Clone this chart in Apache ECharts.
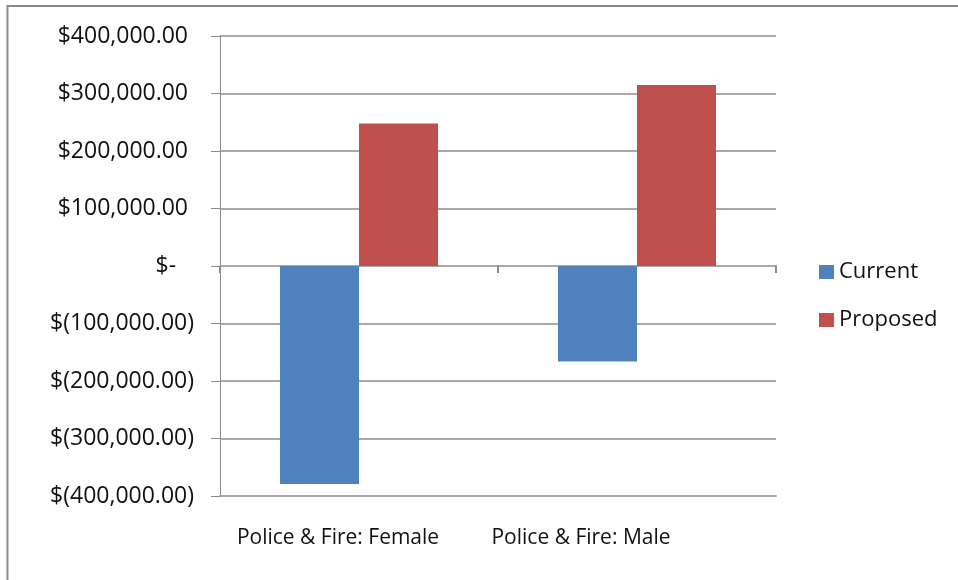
<!DOCTYPE html>
<html>
<head>
<meta charset="utf-8">
<script src="https://cdn.jsdelivr.net/npm/echarts@6/dist/echarts.min.js"></script>
<style>
  html, body { margin: 0; padding: 0; background: #fff; }
  #chart { width: 958px; height: 580px; }
</style>
</head>
<body>
<div id="chart"></div>
<script>
// Plan categories and the two scenarios being compared
const categories = ['Police & Fire: Female', 'Police & Fire: Male'];
const currentValues = [-379000, -166000];
const proposedValues = [248000, 315000];
const seriesNames = ['Current', 'Proposed'];
const yMin = -400000;
const yMax = 400000;
const yStep = 100000;

// Accounting-style currency label: $1,234.00 / $(1,234.00) / $-
function money(v) {
  if (v === 0) return '$-   ';
  const s = Math.abs(v).toLocaleString('en-US', { minimumFractionDigits: 2, maximumFractionDigits: 2 });
  return v < 0 ? '$(' + s + ')' : '$' + s + ' ';
}

const FONT = '"Open Sans", "Liberation Sans", sans-serif';
const GRID_COLOR = '#a8a8a8';
const AXIS_COLOR = '#8c8c8c';

// Category labels sit slightly left of their slot centre
const labelShift = [42, 112];

const chart = echarts.init(document.getElementById('chart'));
chart.setOption({
  backgroundColor: '#ffffff',
  animation: false,
  graphic: [{
    type: 'rect',
    shape: { x: 7.5, y: 6, width: 1000, height: 700 },
    style: { fill: 'none', stroke: '#8a8a8a', lineWidth: 2 },
    silent: true
  }],
  grid: { left: 220, right: 182, top: 36, bottom: 84, containLabel: false },
  legend: {
    orient: 'vertical',
    left: 819,
    top: 261,
    padding: 0,
    itemWidth: 15,
    itemHeight: 14,
    itemGap: 26,
    icon: 'rect',
    data: seriesNames,
    textStyle: { fontFamily: FONT, fontSize: 22, color: '#111', lineHeight: 22 }
  },
  xAxis: [
    {
      type: 'category',
      data: categories.map((c, i) => ({ value: c, textStyle: { padding: [0, labelShift[i], 0, 0] } })),
      position: 'bottom',
      axisLine: { onZero: false, lineStyle: { color: GRID_COLOR, width: 2 } },
      axisTick: { show: false },
      axisLabel: { margin: 32, fontFamily: FONT, fontSize: 21, color: '#111' },
      splitLine: { show: false }
    },
    {
      type: 'category',
      data: categories,
      axisLine: { onZero: true, lineStyle: { color: GRID_COLOR, width: 2 } },
      axisTick: { show: true, inside: true, length: 7, lineStyle: { color: AXIS_COLOR, width: 2 } },
      axisLabel: { show: false },
      splitLine: { show: false }
    }
  ],
  yAxis: {
    type: 'value',
    min: yMin,
    max: yMax,
    interval: yStep,
    axisLine: { show: true, lineStyle: { color: AXIS_COLOR, width: 1 } },
    axisTick: { show: true, length: 9, lineStyle: { color: AXIS_COLOR } },
    axisLabel: { margin: 26, fontFamily: FONT, fontSize: 23, color: '#111', formatter: money },
    splitLine: { show: true, lineStyle: { color: GRID_COLOR, width: 2 } }
  },
  series: [
    {
      name: seriesNames[0],
      type: 'bar',
      xAxisIndex: 0,
      data: currentValues,
      barWidth: 79,
      barGap: '0%',
      itemStyle: { color: '#4f81bd' }
    },
    {
      name: seriesNames[1],
      type: 'bar',
      xAxisIndex: 0,
      data: proposedValues,
      barWidth: 79,
      barGap: '0%',
      itemStyle: { color: '#c0504d' }
    }
  ]
});
</script>
</body>
</html>
